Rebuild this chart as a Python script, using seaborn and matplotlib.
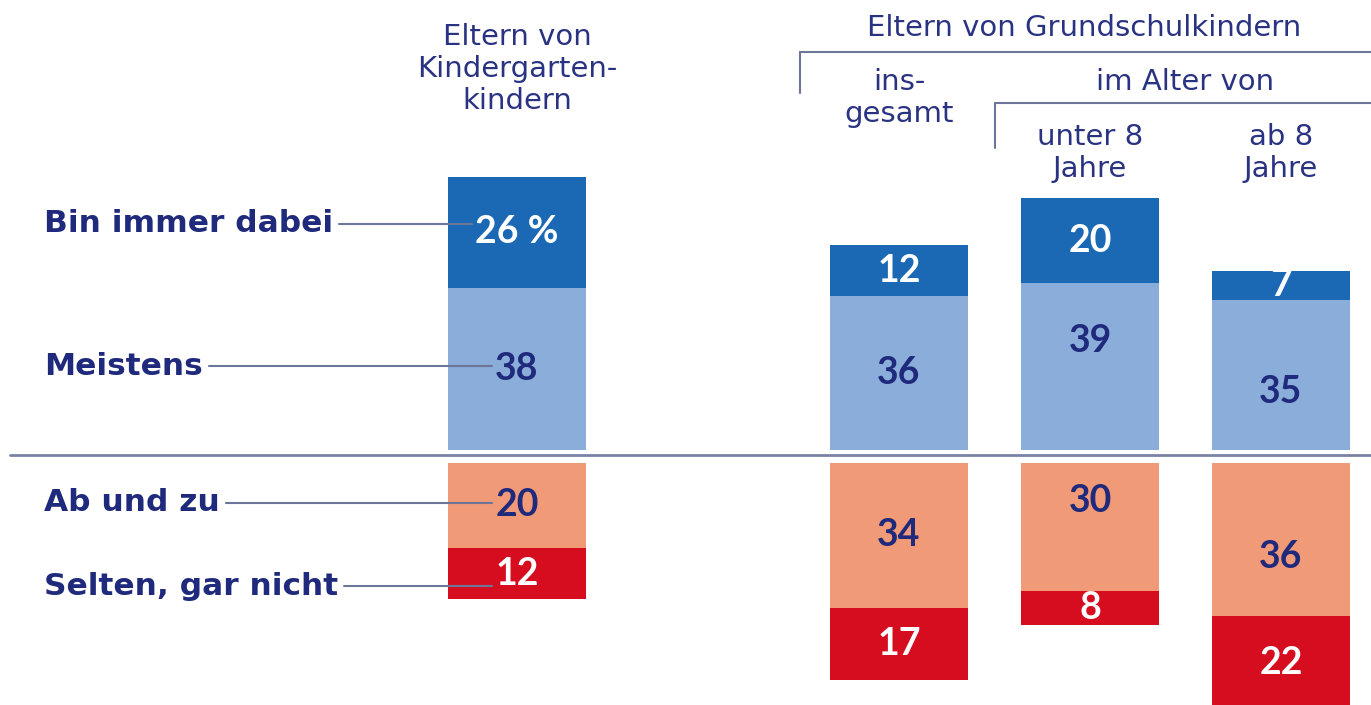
import matplotlib
matplotlib.use("Agg")
import matplotlib.pyplot as plt
import matplotlib.transforms as mtransforms
import numpy as np
import seaborn as sns

# values (percent)
group_pos = [0, 2, 3, 4]           # Kindergarten, insgesamt, unter 8, ab 8
immer = [26, 12, 20, 7]
meistens = [38, 36, 39, 35]
ab_und_zu = [20, 34, 30, 36]
selten = [12, 17, 8, 22]
row_labels = ["Bin immer dabei", "Meistens", "Ab und zu", "Selten, gar nicht"]

# colours
DARK_BLUE = "#1b68b4"
LIGHT_BLUE = "#8badda"
SALMON = "#f19a77"
RED = "#d60d1f"
NAVY = "#1f2a7c"
HEAD = "#2a3382"
RULE = "#6d7599"

W, H = 1371, 705
X0, PX_X = 517, 191      # pixel of x=0, pixels per x unit
Y0, PX_Y = 455, 4.27     # pixel of baseline, pixels per percent
POS_BASE, NEG_BASE = 1.2, -1.8

sns.set_theme(style="white")
plt.rcParams["font.family"] = ["DejaVu Sans"]

fig = plt.figure(figsize=(W / 100, H / 100), dpi=100)
ax = fig.add_axes([0, 0, 1, 1])

imm = np.array(immer)
mei = np.array(meistens)
abz = np.array(ab_und_zu)
sel = np.array(selten)

layers = [
    # name, heights, bottoms, colour, text colour, nudges per column
    ("meistens", mei, np.full(4, POS_BASE), LIGHT_BLUE, NAVY, [0, 0, 6, -4]),
    ("immer", imm, POS_BASE + mei, DARK_BLUE, "white", [0, 0, 0, 0]),
    ("ab", -abz, np.full(4, NEG_BASE), SALMON, NAVY, [0, 0, 6, -4]),
    ("selten", -sel, NEG_BASE - abz, RED, "white", [0, 0, 0, 0]),
]

num_texts = {}
for name, heights, bottoms, col, tcol, nudge in layers:
    sns.barplot(x=group_pos, y=heights, orient="x", native_scale=True,
                width=0.72, color=col, saturation=1, errorbar=None,
                bottom=bottoms, linewidth=0, ax=ax)
    for i, (p, h, b) in enumerate(zip(group_pos, heights, bottoms)):
        lab = f"{abs(h)}"
        if name == "immer" and i == 0:
            lab = f"{abs(h)} %"
        t = ax.text(p, b + h / 2 + nudge[i], lab, ha="center", va="center",
                    fontsize=27, fontweight="bold", color=tcol,
                    family=["Lato", "DejaVu Sans"])
        if i == 0:
            num_texts[name] = t

ax.set_xlim(-X0 / PX_X, (W - X0) / PX_X)
ax.set_ylim(-(H - Y0) / PX_Y, Y0 / PX_Y)
ax.axis("off")

# baseline
ax.plot([(10 - X0) / PX_X, (W - X0) / PX_X], [0, 0], color="#7b82a6", lw=2)

# row labels with leader lines to first column
label_y = [
    POS_BASE + mei[0] + imm[0] / 2 + 1.9,
    POS_BASE + mei[0] / 2 + 0.6,
    NEG_BASE - abz[0] / 2 + 0.6,
    NEG_BASE - abz[0] - sel[0] / 2 - 2.9,
]
label_x = (44 - X0) / PX_X
lab_texts = []
for lab, y in zip(row_labels, label_y):
    lab_texts.append(ax.text(label_x, y, lab, ha="left", va="center",
                             fontsize=22.5, fontweight="bold", color=NAVY))

fig.canvas.draw()
rend = fig.canvas.get_renderer()
inv = ax.transData.inverted()
for t, key, y in zip(lab_texts, ["immer", "meistens", "ab", "selten"], label_y):
    x_start = inv.transform((t.get_window_extent(rend).x1 + 6, 0))[0]
    x_end = inv.transform((num_texts[key].get_window_extent(rend).x0 - 3, 0))[0]
    ax.plot([x_start, x_end], [y, y], color=RULE, lw=1.5, zorder=5)

# headers (x in data, y in figure pixels from top)
tr = mtransforms.blended_transform_factory(ax.transData, fig.transFigure)


def fy(py):
    return 1 - py / H


def header(x, py, s):
    ax.text(x, fy(py), s, transform=tr, ha="center", va="center",
            fontsize=21, color=HEAD, linespacing=1.18, multialignment="center")


header(0, 69, "Eltern von\nKindergarten-\nkindern")
header(2.97, 28, "Eltern von Grundschulkindern")
header(2, 98, "ins-\ngesamt")
header(3.5, 82, "im Alter von")
header(3, 153, "unter 8\nJahre")
header(4, 153, "ab 8\nJahre")

x_right = (W - X0) / PX_X
for xl, ytop, ybot in [(1.48, 52, 93), (2.5, 103, 148)]:
    ax.plot([xl, x_right], [fy(ytop), fy(ytop)], transform=tr, color=RULE, lw=1.5)
    ax.plot([xl, xl], [fy(ytop), fy(ybot)], transform=tr, color=RULE, lw=1.5)

fig.savefig("out.png", dpi=100, facecolor="white")
